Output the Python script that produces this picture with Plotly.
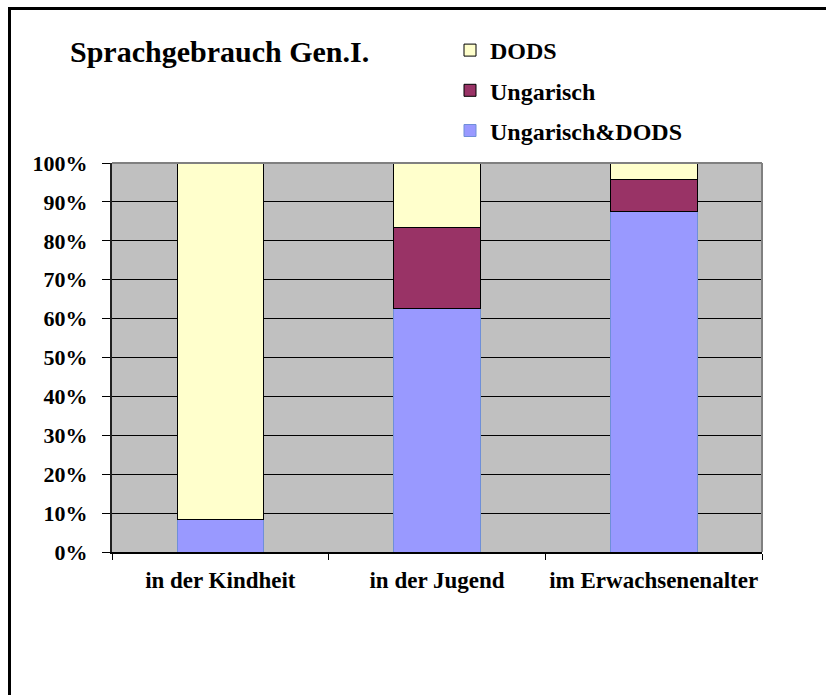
import plotly.graph_objects as go

categories = ["in der Kindheit", "in der Jugend", "im Erwachsenenalter"]
ungarisch_dods = [8.3, 62.5, 87.5]
ungarisch = [0.0, 20.8, 8.3]
dods = [91.7, 16.7, 4.2]
y_ticks = [0, 10, 20, 30, 40, 50, 60, 70, 80, 90, 100]
y_tick_labels = [f"{v}%" for v in y_ticks]

FONT = "Liberation Serif"

fig = go.Figure()
fig.add_trace(go.Bar(name="<b>Ungarisch&DODS</b>", x=categories, y=ungarisch_dods,
                     marker=dict(color="#9999FF", line=dict(color="#6F8FD8", width=1)),
                     legendgroup="a", legendrank=3))
fig.add_trace(go.Bar(name="<b>Ungarisch</b>", x=categories, y=ungarisch,
                     marker=dict(color="#993366", line=dict(color="#000000", width=1)),
                     legendgroup="b", legendrank=2))
fig.add_trace(go.Bar(name="<b>DODS</b>", x=categories, y=dods,
                     marker=dict(color="#FFFFCC", line=dict(color="#000000", width=1)),
                     legendgroup="c", legendrank=1))

W, H = 826, 695
L, T = 112, 163
R = W - 762
B = H - 552
pw = W - L - R
ph = H - T - B

def px(x):
    return (x - L) / pw

def py(y):
    return (H - B - y) / ph

fig.update_layout(
    width=W, height=H,
    margin=dict(l=L, r=R, t=T, b=B, pad=0, autoexpand=False),
    barmode="stack",
    bargap=0.6,
    paper_bgcolor="white",
    plot_bgcolor="#C0C0C0",
    font=dict(family=FONT, color="black", size=22),
    title=dict(text="<b>Sprachgebrauch Gen.I.</b>", xref="container", x=70 / W,
               xanchor="left", yref="container", y=1 - 51 / H, yanchor="middle",
               font=dict(size=30, family=FONT)),
    showlegend=True,
    legend=dict(x=px(450), y=py(28), xanchor="left", yanchor="top",
                traceorder="grouped", tracegroupgap=6,
                font=dict(size=24, family=FONT), bgcolor="rgba(0,0,0,0)",
                itemwidth=30),
    xaxis=dict(showline=True, linecolor="black", linewidth=1.5,
               ticks="outside", ticklen=6, tickcolor="black", tickwidth=1,
               tickson="boundaries", showgrid=False, tickangle=0, automargin=False,
               tickfont=dict(size=23, family=FONT), ticklabelstandoff=7,
               tickprefix="<b>", ticksuffix="</b>"),
    yaxis=dict(range=[0, 100], tickvals=y_ticks, ticktext=[f"<b>{t}</b>" for t in y_tick_labels],
               showline=True, linecolor="#202020", linewidth=2, automargin=False,
               ticks="outside", ticklen=8, tickcolor="black", tickwidth=1,
               showgrid=True, gridcolor="black", gridwidth=1, zeroline=False,
               tickfont=dict(size=22, family=FONT), ticklabelstandoff=10),
    shapes=[
        dict(type="line", xref="paper", yref="paper", x0=0, x1=1, y0=1, y1=1,
             line=dict(color="#808080", width=2)),
        dict(type="line", xref="paper", yref="paper", x0=1, x1=1, y0=0, y1=1,
             line=dict(color="#808080", width=2)),
        dict(type="line", xref="paper", yref="paper", x0=px(9.5), x1=px(9.5),
             y0=py(720), y1=py(8.5), line=dict(color="black", width=3)),
        dict(type="line", xref="paper", yref="paper", x0=px(8), x1=px(860),
             y0=py(8.5), y1=py(8.5), line=dict(color="black", width=3)),
    ],
)

fig.write_html("out.html", config={"displayModeBar": False},
               post_script="document.body.style.margin='0';document.body.style.overflow='hidden';")
